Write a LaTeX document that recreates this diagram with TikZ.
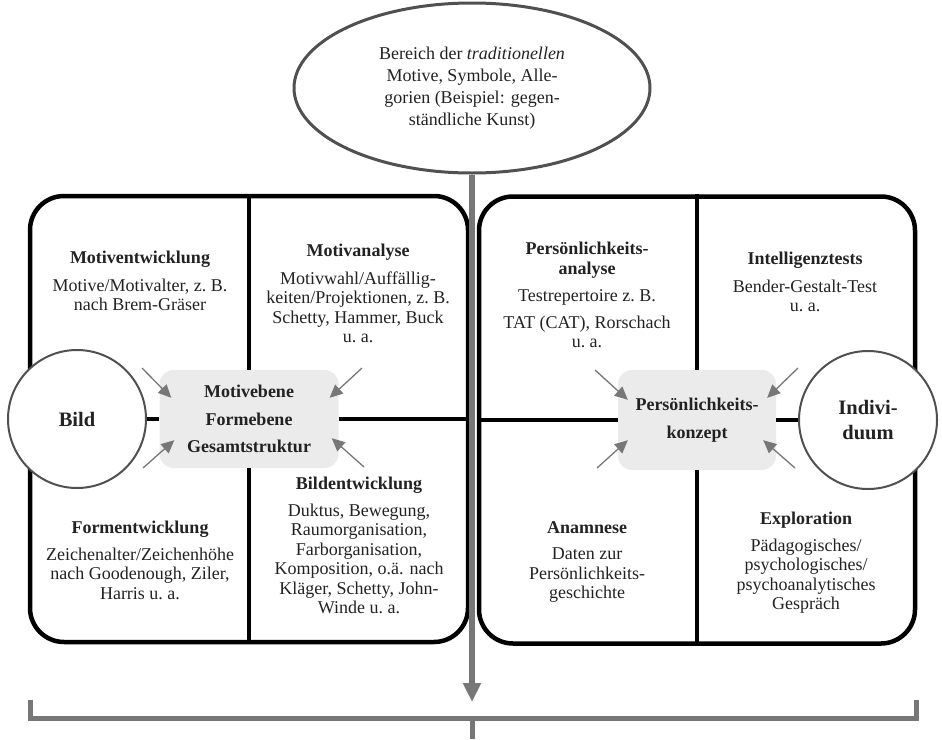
\documentclass[tikz,border=0pt]{standalone}
\usepackage{fontspec}
\setmainfont{Liberation Serif}
\usetikzlibrary{positioning,arrows.meta,shapes.geometric}
\definecolor{linegray}{HTML}{777777}
\definecolor{boxgray}{HTML}{EBEBEB}
\definecolor{ringgray}{HTML}{505050}
\definecolor{inkgray}{HTML}{222222}
\tikzset{
  panel/.style={draw, rounded corners=34pt, line width=4.5pt, minimum width=438pt, minimum height=446pt},
  hubbox/.style={fill=boxgray, rounded corners=14pt, align=center, inner sep=0pt, font=\bfseries\fontsize{18}{19.5}\selectfont},
  ringnode/.style={circle, draw=ringgray, line width=2pt, fill=white, minimum size=138pt, inner sep=0pt, align=center, font=\bfseries\fontsize{20.5}{22}\selectfont},
  ovalnode/.style={ellipse, draw=ringgray, line width=3pt, minimum width=356pt, minimum height=170pt, inner sep=0pt, align=center, font=\fontsize{18}{22}\selectfont},
  celltext/.style={anchor=north, align=center, inner sep=0pt},
  divline/.style={line width=4.5pt},
  feedarrow/.style={-{Triangle[length=13pt,width=12pt]}, line width=1.3pt, draw=linegray, fill=linegray},
  mainarrow/.style={-{Triangle[length=19pt,width=17pt]}, line width=5.5pt, draw=linegray, fill=linegray},
  bracket/.style={line width=5pt, draw=linegray}
}
\begin{document}
\begin{tikzpicture}[x=1pt, y=-1pt, every node/.style={font=\fontsize{18}{19.5}\selectfont, text=inkgray}]
  \useasboundingbox (0,0) rectangle (942,739);
  % two panels
  \node[panel] (lbox) at (249,419) {};
  \node[panel, minimum width=436pt, minimum height=447pt] (rbox) at (697,420) {};
  \node[ovalnode] (trad) at (472,88) {Bereich der \textit{traditionellen}\\ Motive, Symbole, Alle-\\gorien (Beispiel: gegen-\\ständliche Kunst)};
  % centre boxes and circles
  \node[hubbox, minimum width=179pt, minimum height=98pt] (lhub) at (249,419) {Motivebene\\[8pt]Formebene\\[8pt]Gesamtstruktur};
  \node[hubbox, minimum width=158pt, minimum height=100pt] (rhub) at (697,420) {Persönlichkeits-\\[8pt]konzept};
  \node[ringnode] (bild) at (77,419) {Bild};
  \node[ringnode] (indiv) at (868,420) {Indivi-\\[3pt]duum};
  % dividers
  \draw[divline] (lbox.north) -- (lhub.north);
  \draw[divline] (lhub.south) -- (lbox.south);
  \draw[divline] (bild.east) -- (lhub.west);
  \draw[divline] (lhub.east) -- (lbox.east);
  \draw[divline] (rbox.north) -- (rhub.north);
  \draw[divline] (rhub.south) -- (rbox.south);
  \draw[divline] (rbox.west) -- (rhub.west);
  \draw[divline] (rhub.east) -- (indiv.west);
  % quadrant texts
  \node[celltext] (motent) at (140,251) {\textbf{Motiventwicklung}\\[8pt]Motive/Motivalter, z.~B.\\nach Brem-Gräser};
  \node[celltext] (motana) at (358,244) {\textbf{Motivanalyse}\\[8pt]Motivwahl/Auffällig-\\keiten/Projektionen, z.~B.\\Schetty, Hammer, Buck\\u.~a.};
  \node[celltext] (formen) at (140,521) {\textbf{Formentwicklung}\\[7pt]Zeichenalter/Zeichenhöhe\\nach Goodenough, Ziler,\\Harris u.~a.};
  \node[celltext] (bildent) at (359,477) {\textbf{Bildentwicklung}\\[7pt]Duktus, Bewegung,\\Raumorganisation,\\Farborganisation,\\Komposition, o.ä. nach\\Kläger, Schetty, John-\\Winde u.~a.};
  \node[celltext] (persan) at (587,242) {\textbf{Persönlichkeits-}\\\textbf{analyse}\\[8pt]Testrepertoire z.~B.\\[7pt]TAT (CAT), Rorschach\\u.~a.};
  \node[celltext] (intell) at (805,252) {\textbf{Intelligenztests}\\[8pt]Bender-Gestalt-Test\\u.~a.};
  \node[celltext] (anam) at (587,521) {\textbf{Anamnese}\\[7pt]Daten zur\\Persönlichkeits-\\geschichte};
  \node[celltext] (explo) at (806,512) {\textbf{Exploration}\\[7pt]Pädagogisches/\\psychologisches/\\psychoanalytisches\\Gespräch};
  % arrows into the centre boxes
  \coordinate (la) at (142,368);
  \coordinate (lb) at (362,368);
  \coordinate (lc) at (143,468);
  \coordinate (ld) at (364,467);
  \coordinate (ra) at (595,370);
  \coordinate (rb) at (798,368);
  \coordinate (rc) at (597,468);
  \coordinate (rd) at (795,468);
  \draw[feedarrow] (la) -- ([shift={(12,28)}]lhub.north west);
  \draw[feedarrow] (lb) -- ([shift={(-9,28)}]lhub.north east);
  \draw[feedarrow] (lc) -- ([shift={(15,-28)}]lhub.south west);
  \draw[feedarrow] (ld) -- ([shift={(-7,-30)}]lhub.south east);
  \draw[feedarrow] (ra) -- ([shift={(10,30)}]rhub.north west);
  \draw[feedarrow] (rb) -- ([shift={(-9,28)}]rhub.north east);
  \draw[feedarrow] (rc) -- ([shift={(10,-30)}]rhub.south west);
  \draw[feedarrow] (rd) -- ([shift={(-13,-30)}]rhub.south east);
  % main line and bracket
  \coordinate (down) at (472,702);
  \draw[mainarrow] (trad.south) -- (down);
  \draw[bracket] (30,700) -- (30,718) -- (916,718) -- (916,700);
  \draw[bracket] (472,718) -- (472,739);
\end{tikzpicture}
\end{document}
